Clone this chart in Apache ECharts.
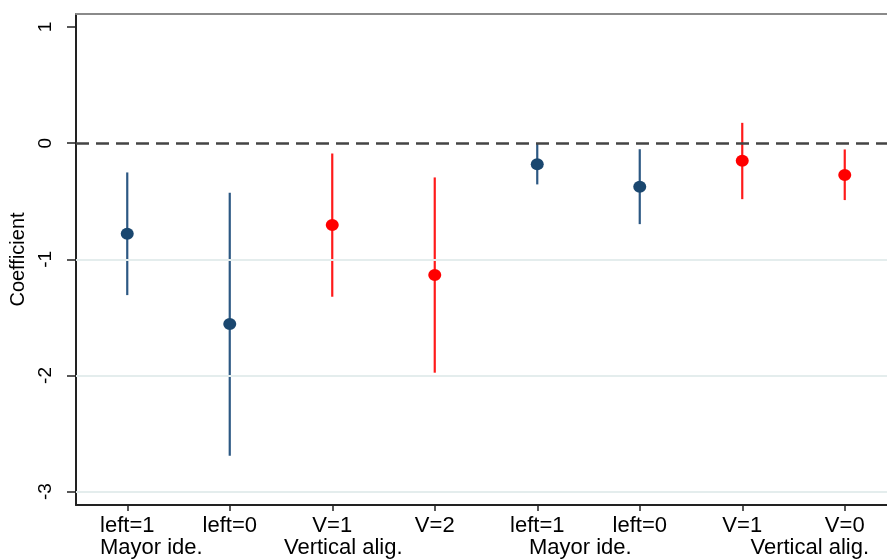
<!DOCTYPE html>
<html>
<head>
<meta charset="utf-8">
<script src="https://cdn.jsdelivr.net/npm/echarts@6/dist/echarts.min.js"></script>
<style>
  html, body { margin: 0; padding: 0; background: #fff; overflow: hidden; }
  #chart { width: 887px; height: 560px; }
</style>
</head>
<body>
<div id="chart"></div>
<script>
// Coefficient estimates with confidence intervals
const categories = ['left=1', 'left=0', 'V=1', 'V=2', 'left=1', 'left=0', 'V=1', 'V=0'];
const groupLabels = ['Mayor ide.', '', 'Vertical alig.', '', 'Mayor ide.', '', '', 'Vertical alig.'];
const groupOf = ['mayor', 'mayor', 'vertical', 'vertical', 'mayor', 'mayor', 'vertical', 'vertical'];
const coef   = [-0.78, -1.557, -0.705, -1.135, -0.181, -0.376, -0.152, -0.275];
const ciLow  = [-1.308, -2.692, -1.322, -1.976, -0.355, -0.697, -0.482, -0.49];
const ciHigh = [-0.252, -0.427, -0.089, -0.295, -0.003, -0.052, 0.175, -0.054];
const yTicks = [-3, -2, -1, 0, 1];
const gridValues = [-1, -2, -3];
const refValue = 0;

// horizontal nudges (px) for the group captions under the tick labels
const captionShift = [24, 0, 11, 0, 43, 0, 0, -35];

const palette = { mayor: '#1a476f', vertical: '#ff0000' };
const barPalette = { mayor: '#2c5883', vertical: '#ff1a1a' };
const FONT = '"Liberation Sans", Arial, Helvetica, sans-serif';

const rich = { a: { fontSize: 22, lineHeight: 22, color: '#000', fontFamily: FONT } };
categories.forEach((c, i) => {
  const s = captionShift[i];
  rich['g' + i] = {
    fontSize: 22, lineHeight: 22, color: '#000', fontFamily: FONT,
    padding: s >= 0 ? [0, 0, 0, 2 * s] : [0, -2 * s, 0, 0]
  };
});

const intervals = categories.map((c, i) => [i, ciLow[i], ciHigh[i], groupOf[i]]);
const points = categories.map((c, i) => ({
  value: [i, coef[i]],
  itemStyle: { color: palette[groupOf[i]], opacity: 1 }
}));

const chart = echarts.init(document.getElementById('chart'), null, { renderer: 'canvas' });
chart.setOption({
  backgroundColor: '#fff',
  animation: false,
  grid: {
    left: 76, top: 14, width: 820, height: 491,
    outerBoundsMode: 'none',
    containLabel: false,
    show: false
  },
  xAxis: [
    {
      type: 'category',
      data: categories,
      boundaryGap: true,
      axisLine: { show: true, onZero: false, lineStyle: { color: '#222', width: 2 } },
      axisTick: { show: true, alignWithLabel: true, length: 6, lineStyle: { color: '#222', width: 1.5 } },
      axisLabel: {
        interval: 0, margin: 10, color: '#000', fontFamily: FONT, fontSize: 22,
        formatter: (val, i) => groupLabels[i]
          ? '{a|' + val + '}\n{g' + i + '|' + groupLabels[i] + '}'
          : '{a|' + val + '}',
        rich: rich
      },
      splitLine: { show: false }
    },
    {
      // plain frame line along the top of the plot region
      type: 'category',
      data: categories,
      position: 'top',
      axisLine: { show: true, onZero: false, lineStyle: { color: '#8a8a8a', width: 2 } },
      axisTick: { show: false },
      axisLabel: { show: false },
      splitLine: { show: false }
    }
  ],
  yAxis: {
    type: 'value',
    min: -3.115, max: 1.112,
    name: 'Coefficient',
    nameLocation: 'middle',
    nameRotate: 90,
    nameGap: 41,
    nameTextStyle: { fontSize: 20, color: '#000', fontFamily: FONT },
    axisLine: { show: true, lineStyle: { color: '#222', width: 2 } },
    axisTick: { show: true, length: 9, customValues: yTicks, lineStyle: { color: '#222', width: 1.5 } },
    axisLabel: {
      rotate: 90, margin: 21, fontSize: 19, color: '#000', fontFamily: FONT,
      customValues: yTicks
    },
    splitLine: { show: false }
  },
  series: [
    {
      type: 'line',
      data: [],
      silent: true,
      markLine: {
        silent: true, symbol: 'none', label: { show: false },
        lineStyle: { color: '#e4eded', width: 2, type: 'solid' },
        data: gridValues.map(v => ({ yAxis: v }))
      }
    },
    {
      type: 'line',
      data: [],
      silent: true,
      markLine: {
        silent: true, symbol: 'none', label: { show: false },
        lineStyle: { color: '#444', width: 2.6, type: [13, 7] },
        data: [{ yAxis: refValue }]
      }
    },
    {
      type: 'custom',
      data: intervals,
      renderItem: (params, api) => {
        const lo = api.coord([api.value(0), api.value(1)]);
        const hi = api.coord([api.value(0), api.value(2)]);
        const g = intervals[params.dataIndex][3];
        return {
          type: 'line',
          shape: { x1: lo[0], y1: lo[1], x2: hi[0], y2: hi[1] },
          style: { stroke: barPalette[g], lineWidth: 2.2 }
        };
      },
      z: 3
    },
    {
      type: 'scatter',
      data: points,
      symbol: 'circle',
      symbolSize: [13, 12],
      itemStyle: { opacity: 1 },
      z: 4
    }
  ]
});
</script>
</body>
</html>
